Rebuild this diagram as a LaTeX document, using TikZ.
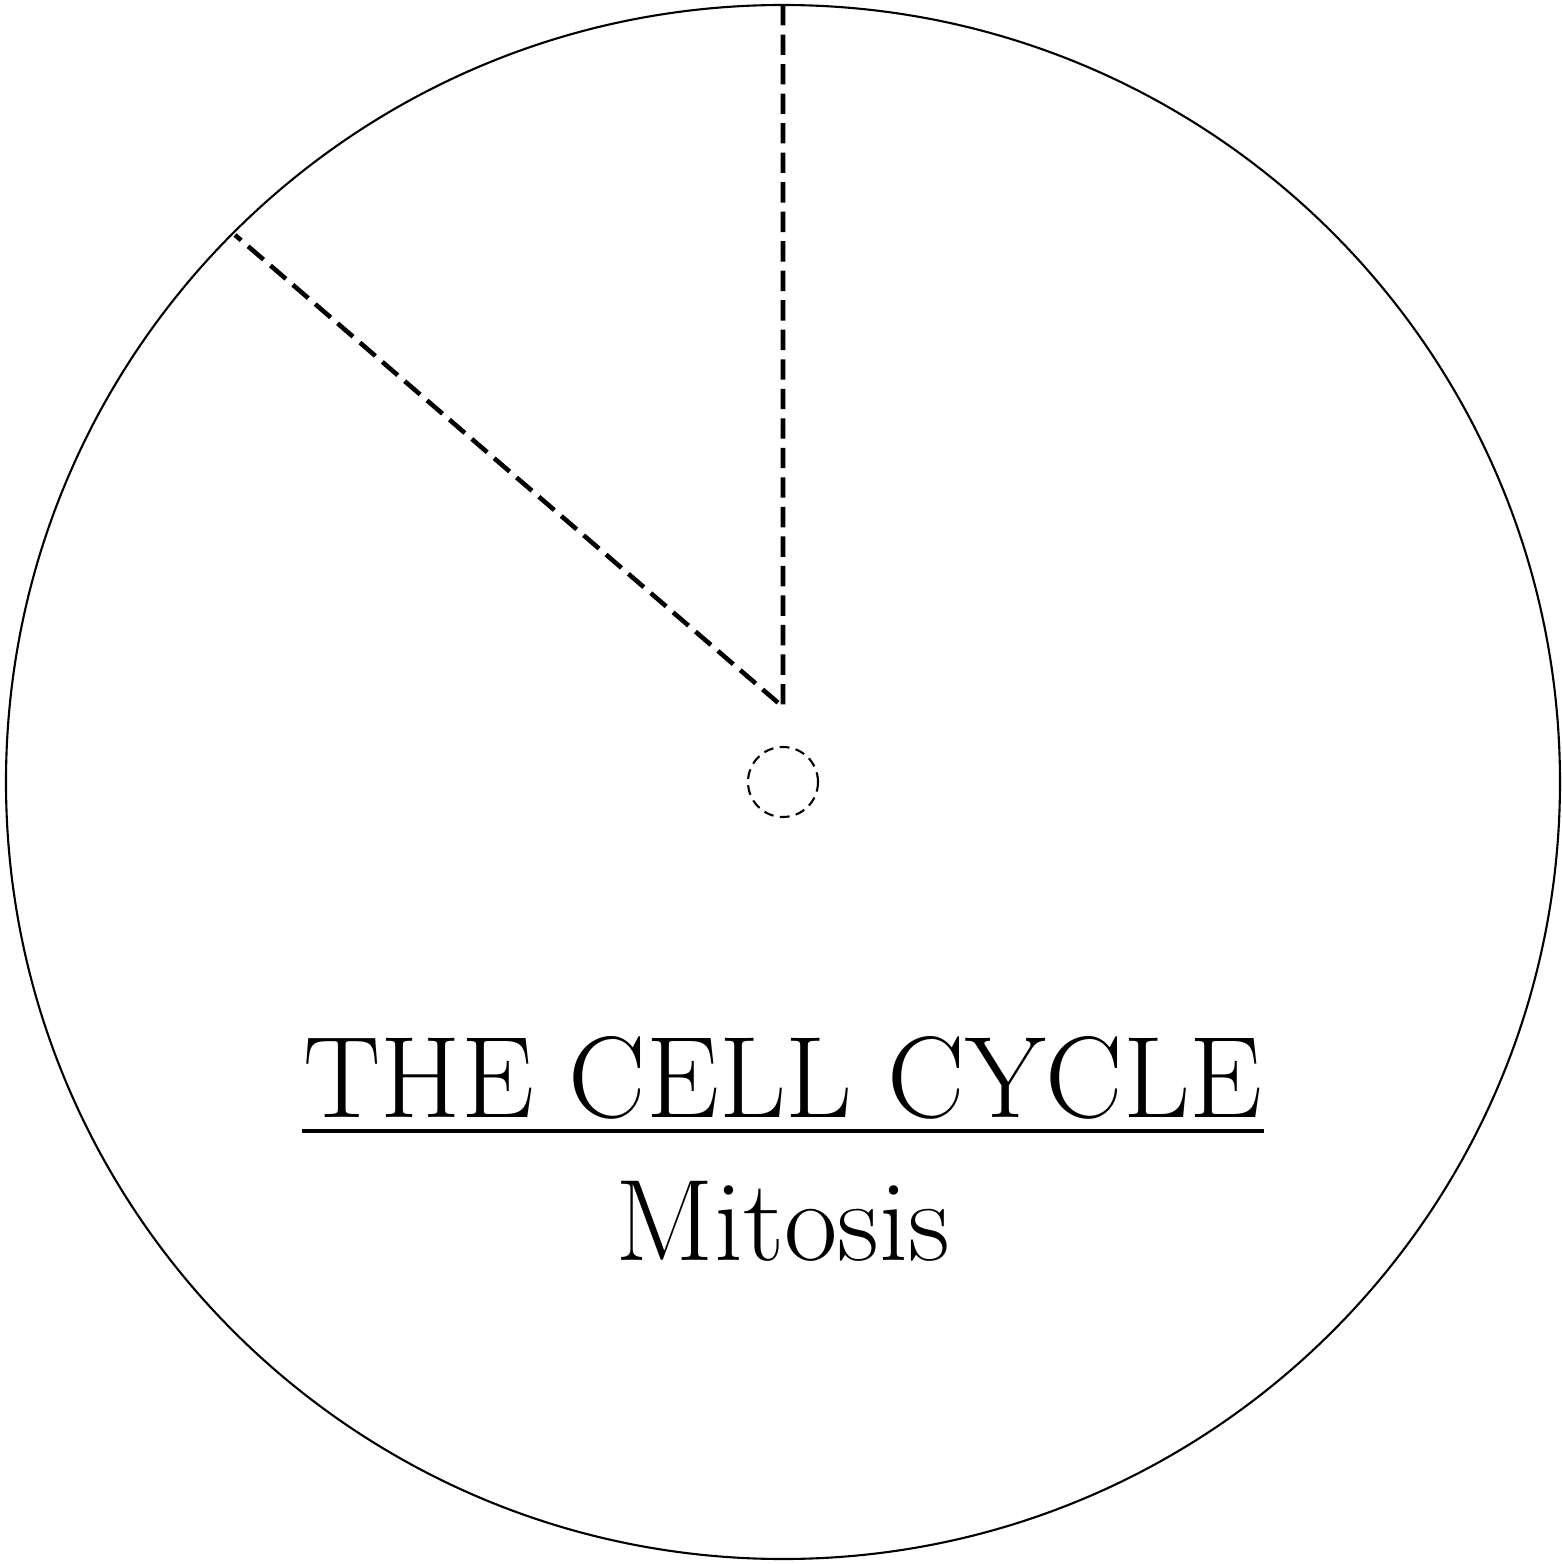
\documentclass[tikz,border=0pt]{standalone}
\usepackage{xcolor}
\usepackage{tikz}
\usetikzlibrary{positioning, calc}
\definecolor{wInk}{HTML}{000000}
\tikzset{
  rim/.style={draw=wInk, line width=0.6pt},
  cutline/.style={draw=wInk, line width=1.3pt, dash pattern=on 5.8pt off 2.6pt},
  pinhole/.style={circle, draw=wInk, line width=0.6pt, dash pattern=on 2.8pt off 1.8pt,
    minimum size=0.7cm, inner sep=0pt},
  headline/.style={font=\fontsize{33}{38}\selectfont, inner sep=0pt, anchor=base, text=wInk},
  subline/.style={font=\fontsize{33}{38}\selectfont, inner sep=0pt, anchor=base, text=wInk},
}

\begin{document}
\begin{tikzpicture}
        \useasboundingbox (-7.83,-7.82) rectangle (7.79,7.82);
        \coordinate (hub) at (0,0);
        \coordinate (apex) at (0,0.75);
        \coordinate (top) at (0,7.77);
        \coordinate (edge) at (-5.48,5.47);
        \draw[rim] (hub) circle (7.77);
        \draw[cutline] (top) -- (apex) -- (edge);
        \node[pinhole] (hole) at (hub) {};
        \node[headline] (title) at (0,-3.35) {THE CELL CYCLE};
        \draw[wInk, line width=1.1pt] ([yshift=-0.14cm]title.base west) -- ([yshift=-0.14cm]title.base east);
        \node[subline] (phase) at (0,-4.78) {Mitosis};
      \end{tikzpicture}
\end{document}
